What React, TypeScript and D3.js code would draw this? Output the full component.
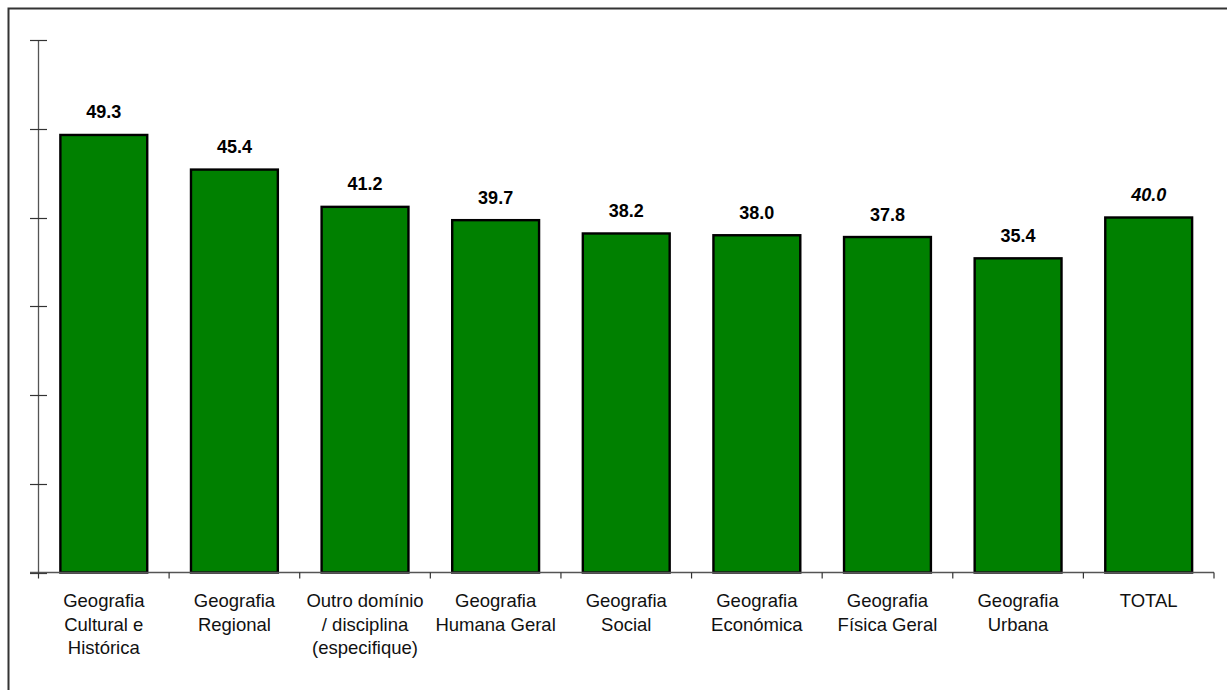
import React from "react";
import * as d3 from "d3";

const categories: string[][] = [
  ["Geografia", "Cultural e", "Histórica"],
  ["Geografia", "Regional"],
  ["Outro domínio", "/ disciplina", "(especifique)"],
  ["Geografia", "Humana Geral"],
  ["Geografia", "Social"],
  ["Geografia", "Económica"],
  ["Geografia", "Física Geral"],
  ["Geografia", "Urbana"],
  ["TOTAL"],
];
const values: number[] = [49.3, 45.4, 41.2, 39.7, 38.2, 38.0, 37.8, 35.4, 40.0];
const valueLabels: string[] = ["49.3", "45.4", "41.2", "39.7", "38.2", "38.0", "37.8", "35.4", "40.0"];
const yTicks: number[] = [0, 10, 20, 30, 40, 50, 60];

export default function App() {
  const W = 1227, H = 690;
  const x0 = 38.5, x1 = 1214, yTop = 40, yBase = 572.5;
  const x = d3.scaleBand<number>().domain(d3.range(values.length)).range([x0, x1]).paddingInner(0.335).paddingOuter(0.1675);
  const xb = d3.scaleBand<number>().domain(d3.range(values.length)).range([x0, x1]);
  const y = d3.scaleLinear().domain([0, 60]).range([yBase, yTop]);
  const font = "'Liberation Sans', Arial, sans-serif";
  return (
    <svg width={W} height={H} style={{ position: "absolute", left: 0, top: 0, background: "#fff" }}>
      <rect x={8.5} y={8.5} width={1400} height={900} fill="none" stroke="#333" strokeWidth={2} />
      {/* y axis */}
      <line x1={x0} x2={x0} y1={y(60)} y2={yBase} stroke="#555" strokeWidth={1.3} />
      {yTicks.map((t) => (
        <line key={t} x1={30} x2={47} y1={Math.round(y(t)) + 0.5} y2={Math.round(y(t)) + 0.5} stroke="#333" strokeWidth={1.2} />
      ))}
      {/* bars */}
      {values.map((v, i) => (
        <rect key={i} x={x(i)!} y={y(v)} width={x.bandwidth()} height={yBase - y(v)} fill="#008000" stroke="#000" strokeWidth={2.4} />
      ))}
      {/* x axis */}
      <line x1={30} x2={x1} y1={yBase} y2={yBase} stroke="#555" strokeWidth={1.3} />
      {d3.range(values.length + 1).map((i) => {
        const xx = i < values.length ? xb(i)! : x1;
        return <line key={i} x1={xx} x2={xx} y1={yBase} y2={yBase + 6} stroke="#333" strokeWidth={1.2} />;
      })}
      {/* value labels */}
      {values.map((v, i) => (
        <text key={i} x={x(i)! + x.bandwidth() / 2} y={y(v) - 16.5} textAnchor="middle" fontFamily={font} fontWeight="bold"
          fontStyle={i === values.length - 1 ? "italic" : "normal"} fontSize={18} fill="#000">
          {valueLabels[i]}
        </text>
      ))}
      {/* category labels */}
      {categories.map((lines, i) => (
        <text key={i} x={xb(i)! + xb.bandwidth() / 2} y={607} textAnchor="middle" fontFamily={font} fontSize={18.5} fill="#111">
          {lines.map((l, j) => (
            <tspan key={j} x={xb(i)! + xb.bandwidth() / 2} dy={j === 0 ? 0 : 23.6}>{l}</tspan>
          ))}
        </text>
      ))}
    </svg>
  );
}
